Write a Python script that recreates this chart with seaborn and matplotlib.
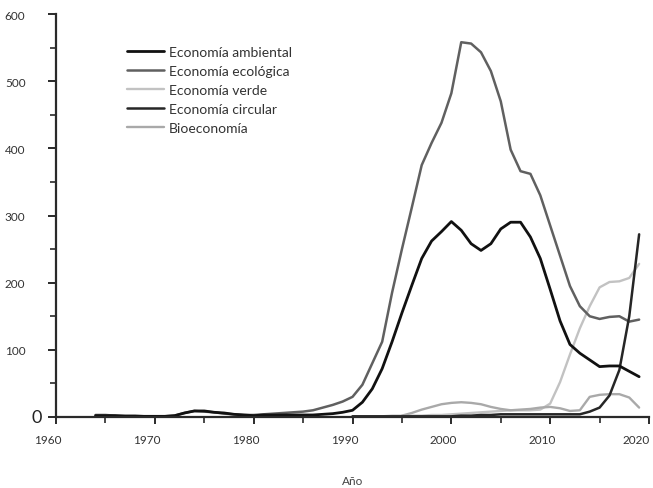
import numpy as np
import pandas as pd
import matplotlib
matplotlib.use("Agg")
import matplotlib.pyplot as plt
import matplotlib.transforms as mtransforms
import seaborn as sns
from matplotlib.ticker import MultipleLocator

# ---- data ----
years_amb = list(range(1964, 2020))
ambiental = [2, 2, 2, 1, 1, 1, 1, 1, 2, 6,
             9, 9, 7, 6, 4, 3, 2, 3, 3, 3,
             3, 3, 3, 4, 5, 7, 10, 22, 42, 72,
             112, 155, 196, 236, 262, 276, 291, 278, 258, 248,
             258, 280, 290, 290, 268, 236, 190, 143, 108, 95,
             85, 75, 76, 76, 68, 60]

years_eco = list(range(1964, 2020))
ecologica = [3, 3, 2, 2, 2, 1, 1, 1, 2, 6,
             9, 8, 7, 5, 4, 3, 3, 4, 5, 6,
             7, 8, 10, 14, 18, 23, 30, 48, 80, 112,
             185, 250, 312, 375, 408, 438, 482, 558, 556, 543,
             515, 470, 398, 366, 362, 330, 285, 240, 195, 165,
             150, 146, 149, 150, 142, 145]

years_verde = list(range(1990, 2020))
verde = [1, 1, 1, 1, 2, 2, 2, 2, 3, 3,
         4, 5, 6, 7, 8, 9, 10, 10, 10, 11,
         20, 52, 93, 132, 165, 193, 201, 202, 207, 228]

years_circ = list(range(1990, 2020))
circular = [1, 1, 1, 1, 1, 1, 1, 1, 1, 1,
            1, 2, 2, 3, 3, 4, 4, 4, 4, 4,
            4, 4, 4, 4, 8, 14, 32, 70, 150, 272]

years_bio = list(range(1995, 2020))
bioeconomia = [2, 6, 11, 15, 19, 21, 22, 21, 19, 15,
               12, 10, 11, 12, 14, 15, 13, 9, 10, 30,
               33, 34, 34, 29, 14]

series_names = ["Economía ambiental", "Economía ecológica", "Economía verde",
                "Economía circular", "Bioeconomía"]
x_ticks = [1960, 1970, 1980, 1990, 2000, 2010, 2020]
y_ticks = [0, 100, 200, 300, 400, 500, 600]
x_label = "Año"

frames = []
for name, yrs, vals in zip(series_names,
                           [years_amb, years_eco, years_verde, years_circ, years_bio],
                           [ambiental, ecologica, verde, circular, bioeconomia]):
    frames.append(pd.DataFrame({"year": yrs, "value": vals, "serie": name}))
df = pd.concat(frames, ignore_index=True)

palette = {
    "Economía ambiental": "#111111",
    "Economía ecológica": "#606060",
    "Economía verde": "#c2c2c2",
    "Economía circular": "#262626",
    "Bioeconomía": "#a9a9a9",
}
widths = {
    "Economía ambiental": 2.0,
    "Economía ecológica": 1.8,
    "Economía verde": 1.7,
    "Economía circular": 1.8,
    "Bioeconomía": 1.7,
}

sns.set_style("ticks")
plt.rcParams["font.family"] = ["Lato", "DejaVu Sans"]

fig = plt.figure(figsize=(6.53, 4.89), dpi=100)
ax = fig.add_axes([0.0858, 0.1452, 0.9081, 0.8241])

draw_order = ["Economía verde", "Bioeconomía", "Economía ecológica",
              "Economía circular", "Economía ambiental"]
for name in draw_order:
    sub = df[df["serie"] == name]
    sns.lineplot(data=sub, x="year", y="value", ax=ax, color=palette[name],
                 linewidth=widths[name], label=name, legend=False,
                 solid_joinstyle="round", solid_capstyle="round")

ax.set_xlim(1960, 2020)
ax.set_ylim(0, 600)
ax.set_xticks(x_ticks)
ax.xaxis.set_minor_locator(MultipleLocator(5))
ax.set_yticks(y_ticks)
ax.yaxis.set_minor_locator(MultipleLocator(50))
ax.set_yticklabels([""] + [str(v) for v in y_ticks[1:]])
ax.set_xticklabels([str(v) for v in x_ticks])

for s in ["top", "right"]:
    ax.spines[s].set_visible(False)
for s in ["left", "bottom"]:
    ax.spines[s].set_linewidth(1.6)
    ax.spines[s].set_color("#2a2a2a")

ax.tick_params(axis="y", which="major", length=6, width=1.4, color="#2a2a2a",
               pad=16, labelsize=8.5, labelcolor="#333333")
ax.tick_params(axis="y", which="minor", length=4, width=1.2, color="#2a2a2a")
ax.tick_params(axis="x", which="major", length=5, width=1.4, color="#2a2a2a",
               pad=7, labelsize=8.5, labelcolor="#333333")
ax.tick_params(axis="x", which="minor", length=4, width=1.2, color="#2a2a2a")

# x tick labels sit slightly left of their ticks in the reference
xlabs = ax.get_xticklabels()
for i, lab in enumerate(xlabs):
    dx = -8 if i < len(xlabs) - 1 else -13
    shift = mtransforms.ScaledTranslation(dx / 100, 0, fig.dpi_scale_trans)
    lab.set_transform(lab.get_transform() + shift)

ax.annotate("0", xy=(0, 0), xycoords="axes fraction", xytext=(-10, 0),
            textcoords="offset points", ha="right", va="center",
            fontsize=13, color="#222222")

ax.set_xlabel(x_label, fontsize=8.5, color="#444444", labelpad=22)
ax.set_ylabel("")

hmap = {l.get_label(): l for l in ax.get_lines()}
handles = [hmap[name] for name in series_names]
leg = ax.legend(handles, series_names, loc="upper left", bbox_to_anchor=(0.11, 0.935),
                frameon=False, fontsize=10, handlelength=2.65, handletextpad=0.36,
                labelspacing=0.5, borderaxespad=0)
for t in leg.get_texts():
    t.set_color("#333333")

fig.savefig("out.png", dpi=100, facecolor="white")
